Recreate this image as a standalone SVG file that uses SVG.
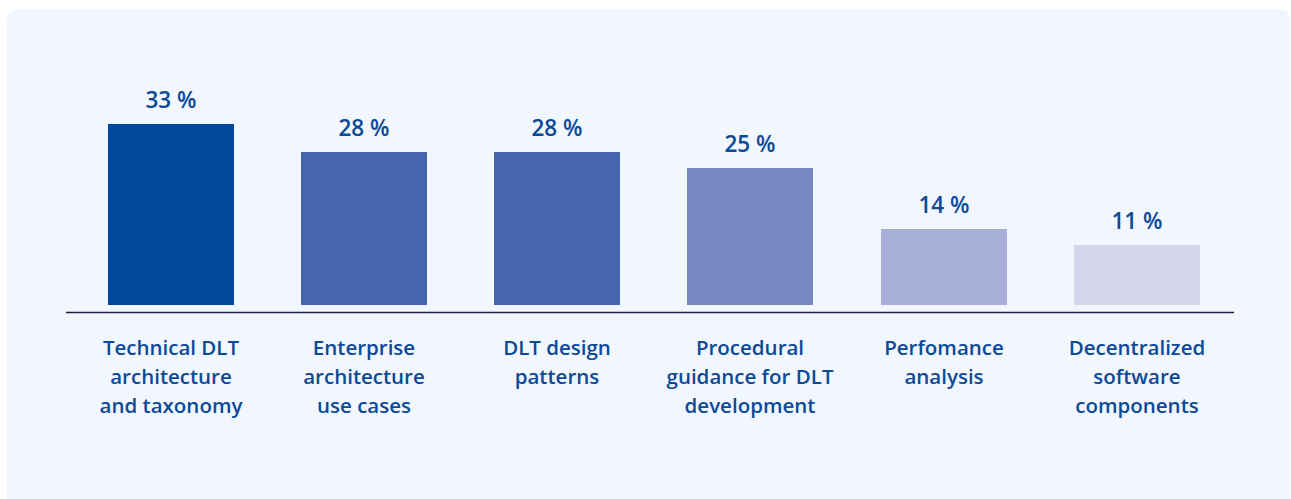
<svg xmlns="http://www.w3.org/2000/svg" width="1291" height="499" viewBox="0 0 1291 499">
<style>
.val{font-family:"Open Sans",sans-serif;font-weight:600;font-size:22.5px;fill:#0B4A97;text-anchor:middle}
.cat{font-family:"Open Sans",sans-serif;font-weight:600;font-size:20.5px;fill:#0B4A97;text-anchor:middle}
</style>
<rect width="1291" height="499" fill="#FFFFFF"/>
<rect x="7" y="9" width="1283" height="510" rx="10" fill="#F2F6FE"/>
<g id="connectors">
<line x1="66" y1="312.5" x2="1234" y2="312.5" stroke="#1B2440" stroke-width="1.5"/>
</g>
<g id="bar1">
<rect x="108" y="124" width="126" height="181" fill="#004899"/>
<text class="val" x="171" y="108">33 %</text>
<text class="cat" x="171" y="355">Technical DLT</text>
<text class="cat" x="171" y="384">architecture</text>
<text class="cat" x="171" y="413">and taxonomy</text>
</g>
<g id="bar2">
<rect x="301" y="152" width="126" height="153" fill="#4566AC"/>
<text class="val" x="364" y="136">28 %</text>
<text class="cat" x="364" y="355">Enterprise</text>
<text class="cat" x="364" y="384">architecture</text>
<text class="cat" x="364" y="413">use cases</text>
</g>
<g id="bar3">
<rect x="494" y="152" width="126" height="153" fill="#4566AC"/>
<text class="val" x="557" y="136">28 %</text>
<text class="cat" x="557" y="355">DLT design</text>
<text class="cat" x="557" y="384">patterns</text>
</g>
<g id="bar4">
<rect x="687" y="168" width="126" height="137" fill="#7888C2"/>
<text class="val" x="750" y="152">25 %</text>
<text class="cat" x="750" y="355">Procedural</text>
<text class="cat" x="750" y="384">guidance for DLT</text>
<text class="cat" x="750" y="413">development</text>
</g>
<g id="bar5">
<rect x="881" y="229" width="126" height="76" fill="#A7AED8"/>
<text class="val" x="944" y="213">14 %</text>
<text class="cat" x="944" y="355">Perfomance</text>
<text class="cat" x="944" y="384">analysis</text>
</g>
<g id="bar6">
<rect x="1074" y="245" width="126" height="60" fill="#D4D6EC"/>
<text class="val" x="1137" y="229">11 %</text>
<text class="cat" x="1137" y="355">Decentralized</text>
<text class="cat" x="1137" y="384">software</text>
<text class="cat" x="1137" y="413">components</text>
</g>
</svg>
